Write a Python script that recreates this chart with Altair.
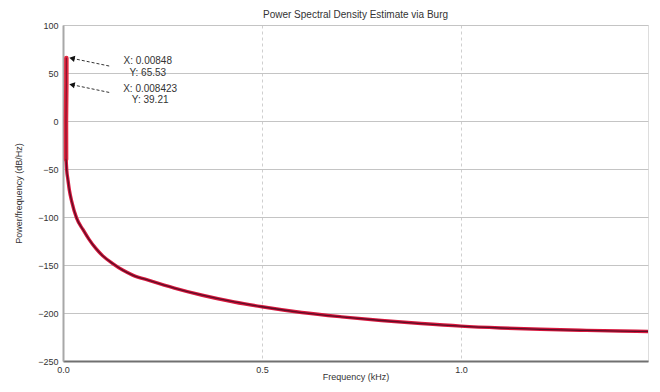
import altair as alt
import pandas as pd

# ---- data ----
freq_khz = [0.00848, 0.008423, 0.0075, 0.0078, 0.0095, 0.012, 0.016, 0.022, 0.034,
            0.05, 0.065, 0.083, 0.10, 0.125, 0.15, 0.175, 0.22, 0.28, 0.35, 0.43,
            0.50, 0.60, 0.70, 0.80, 0.90, 1.00, 1.10, 1.20, 1.30, 1.40, 1.50]
psd_db = [65.53, 39.21, 0, -40, -52, -60, -72, -84, -101,
          -113, -123, -133, -140.5, -148.5, -155.3, -160.5, -166.5, -174, -181.5, -188.5,
          -193.5, -199.5, -204, -207.8, -211, -213.7, -215.6, -217, -218, -218.8, -219.4]

tip_x = [0.00848, 0.008423]
tip_y = [65.53, 39.21]
tip_line1 = ["X: 0.00848", "X: 0.008423"]
tip_line2 = ["Y: 65.53", "Y: 39.21"]

x_ticks = [0, 0.5, 1, 1.5]
y_ticks = [100, 50, 0, -50, -100, -150, -200, -250]

FONT = "Liberation Sans"

n = len(freq_khz)
df = pd.DataFrame({"f": freq_khz, "p": psd_db, "i": list(range(n))})
spike = df.iloc[:4]
tail = df.iloc[3:]

xs = alt.Scale(domain=[0, 1.47], nice=False, zero=False)
ys = alt.Scale(domain=[-250, 100], nice=False, zero=False)

x_axis = alt.Axis(values=x_ticks, title="Frequency (kHz)", labelFlush=False,
                  grid=True, gridDash=[3, 3], gridColor="#cfcfcf",
                  domainColor="#707070", domainWidth=2, ticks=False,
                  labelPadding=4, labelFontSize=9, labelColor="#333",
                  titleFontSize=9, titleFontWeight="normal", titleColor="#333",
                  titleY=15, titleBaseline="middle", labelFont=FONT, titleFont=FONT)
y_axis = alt.Axis(values=y_ticks, title="Power/frequency (dB/Hz)",
                  grid=True, gridColor="#c4c4c4",
                  domainColor="#a8a8a8", domainWidth=2, ticks=False,
                  labelPadding=5, labelFontSize=9, labelColor="#333",
                  titleFontSize=9, titleFontWeight="normal", titleColor="#333",
                  titleX=-45, titleBaseline="middle", labelFont=FONT, titleFont=FONT)

RED = "#d8173d"
CORE = "#5c0e26"

X = alt.X("f:Q", scale=xs, axis=x_axis)
Y = alt.Y("p:Q", scale=ys, axis=y_axis)


def curve(data, interp, color, width):
    return alt.Chart(data).mark_line(color=color, strokeWidth=width, interpolate=interp,
                                     clip=True, strokeCap="round").encode(
        x=X, y=Y, order="i:Q")


layers = [
    curve(tail, "monotone", RED, 3.4),
    curve(spike, "linear", "#e2283f", 4.5),
    curve(tail, "monotone", CORE, 1.3),
    curve(spike, "linear", "#8a1430", 1.3),
]

tips = pd.DataFrame({
    "x": tip_x, "y": tip_y, "l1": tip_line1, "l2": tip_line2,
    # leader-line start/end and text anchors, in data units
    "ax": [0.0226, 0.0226], "ay": [65.3, 37.8],
    "bx": [0.118, 0.118], "by": [57.1, 29.6],
    "tx": [0.213, 0.219], "ty1": [62.0, 33.5], "ty2": [50.0, 22.3],
})
tb = alt.Chart(tips)
leader = tb.mark_rule(color="#333", strokeDash=[3, 2], strokeWidth=1).encode(
    x=alt.X("ax:Q", scale=xs, axis=x_axis), y=alt.Y("ay:Q", scale=ys, axis=y_axis),
    x2="bx:Q", y2="by:Q")
head = tb.mark_point(shape="triangle-left", filled=True, color="#111", size=40,
                     angle=12, opacity=1).encode(
    x=alt.X("ax:Q", scale=xs, axis=x_axis), y=alt.Y("ay:Q", scale=ys, axis=y_axis))
txt1 = tb.mark_text(fontSize=10, font=FONT, color="#333", align="center", baseline="middle").encode(
    x=alt.X("tx:Q", scale=xs, axis=x_axis), y=alt.Y("ty1:Q", scale=ys, axis=y_axis), text="l1:N")
txt2 = tb.mark_text(fontSize=10, font=FONT, color="#333", align="center", baseline="middle").encode(
    x=alt.X("tx:Q", scale=xs, axis=x_axis), y=alt.Y("ty2:Q", scale=ys, axis=y_axis), text="l2:N")

chart = alt.layer(*layers, leader, head, txt1, txt2).properties(
    width=585, height=336,
    title=alt.TitleParams("Power Spectral Density Estimate via Burg", fontSize=10,
                          font=FONT, fontWeight="normal", color="#333", offset=1),
    autosize=alt.AutoSizeParams(type="none"),
    padding={"left": 55, "top": 17, "right": 4, "bottom": 23},
).configure_view(stroke="#d0d0d0", strokeWidth=1).configure(background="white")

chart.save("out.html", embed_options={"renderer": "svg", "actions": False})
